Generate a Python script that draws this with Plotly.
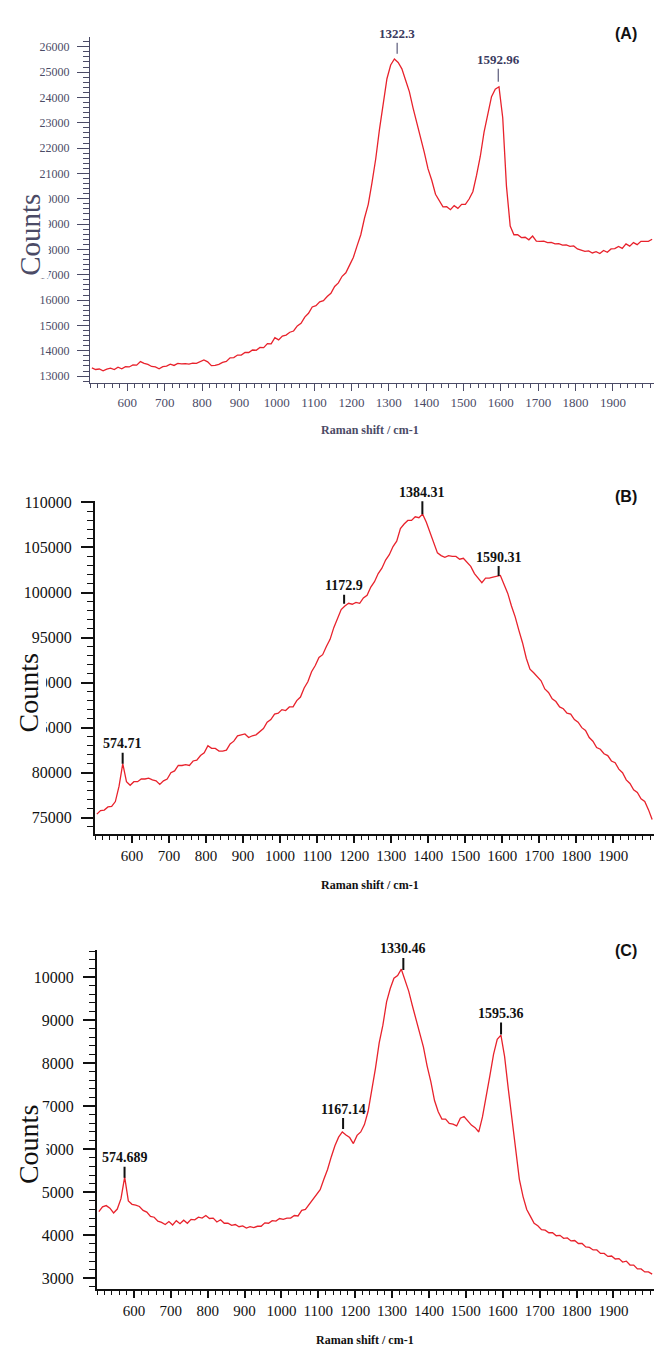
import plotly.graph_objects as go

# ---------------- data ----------------
raman_shift = list(range(505, 2006, 10))

counts_a = [
    13320, 13260, 13280, 13210, 13270, 13310, 13260, 13350, 13290, 13370,
    13360, 13440, 13430, 13570, 13500, 13460, 13380, 13360, 13290, 13370,
    13390, 13470, 13420, 13500, 13480, 13490, 13470, 13510, 13500, 13560,
    13640, 13560, 13410, 13420, 13460, 13540, 13580, 13720, 13730, 13830,
    13830, 13930, 13930, 14030, 14020, 14130, 14120, 14280, 14270, 14520,
    14430, 14580, 14620, 14730, 14780, 14980, 15080, 15330, 15480, 15730,
    15780, 15930, 15980, 16140, 16270, 16540, 16680, 16940, 17080, 17380,
    17680, 18140, 18580, 19240, 19780, 20640, 21580, 22740, 23780, 24740,
    25280, 25520, 25380, 25130, 24680, 24230, 23580, 23030, 22380, 21830,
    21180, 20730, 20180, 19930, 19680, 19690, 19570, 19730, 19620, 19780,
    19780, 19990, 20280, 20930, 21680, 22630, 23380, 24030, 24330, 24420,
    23200, 20500, 18920, 18580, 18580, 18470, 18480, 18380, 18530, 18330,
    18320, 18330, 18270, 18280, 18220, 18230, 18170, 18180, 18120, 18140,
    18020, 17960, 17920, 17940, 17860, 17910, 17840, 17960, 17890, 18020,
    18030, 18120, 18040, 18220, 18130, 18270, 18190, 18320, 18330, 18320,
    18400,
]

counts_b = [
    75400, 75800, 75850, 76200, 76250, 76800, 78500, 81000, 79000, 78600,
    79000, 79000, 79300, 79300, 79400, 79200, 79100, 78700, 79100, 79300,
    80000, 80200, 80800, 80800, 80900, 80800, 81300, 81400, 81900, 82200,
    83000, 82700, 82700, 82400, 82400, 82500, 83200, 83500, 84100, 84200,
    84300, 83900, 84100, 84200, 84600, 84900, 85600, 85900, 86500, 86600,
    87000, 86900, 87300, 87300, 88000, 88400, 89400, 90100, 91200, 91900,
    92800, 93100, 94000, 94800, 96100, 97100, 98100, 98500, 98800, 98700,
    98900, 98800, 99400, 99700, 100600, 101200, 102100, 102700, 103600, 104200,
    105100, 105700, 107100, 107600, 108000, 108000, 108400, 108300, 108700, 107800,
    106700, 105400, 104400, 104100, 103900, 104100, 104000, 104000, 103700, 103800,
    103400, 102900, 102100, 101600, 101100, 101600, 101600, 101700, 101800, 101900,
    100900, 99900, 98500, 97300, 95800, 94400, 92700, 91500, 91100, 90700,
    90200, 89300, 88900, 88200, 87900, 87300, 87100, 86600, 86500, 85900,
    85600, 85000, 84700, 83900, 83500, 82800, 82600, 82100, 81900, 81300,
    81100, 80400, 80000, 79200, 78800, 78100, 77800, 77100, 76800, 75900,
    74800,
]

counts_c = [
    4550, 4660, 4690, 4630, 4520, 4610, 4850, 5350, 4800, 4720,
    4700, 4670, 4580, 4540, 4440, 4420, 4330, 4300, 4250, 4320,
    4240, 4340, 4270, 4350, 4280, 4370, 4360, 4420, 4400, 4460,
    4390, 4400, 4310, 4360, 4280, 4280, 4230, 4250, 4200, 4220,
    4170, 4200, 4180, 4210, 4210, 4290, 4280, 4340, 4330, 4390,
    4370, 4400, 4400, 4460, 4450, 4580, 4600, 4720, 4810, 4960,
    5060, 5300, 5530, 5820, 6080, 6280, 6400, 6330, 6270, 6130,
    6320, 6400, 6570, 6880, 7370, 7880, 8470, 8880, 9420, 9730,
    9970, 10030, 10180, 9930, 9670, 9330, 9020, 8680, 8370, 7930,
    7570, 7130, 6870, 6700, 6700, 6600, 6580, 6540, 6720, 6760,
    6670, 6560, 6500, 6400, 6750, 7200, 7700, 8200, 8550, 8650,
    8150, 7400, 6700, 5900, 5300, 4900, 4600, 4440, 4280, 4220,
    4130, 4120, 4060, 4060, 3990, 4000, 3930, 3940, 3870, 3880,
    3810, 3810, 3730, 3720, 3660, 3660, 3580, 3580, 3510, 3520,
    3450, 3460, 3380, 3400, 3310, 3310, 3220, 3220, 3150, 3150,
    3100,
]

x_tick_vals = [600, 700, 800, 900, 1000, 1100, 1200, 1300, 1400, 1500, 1600, 1700, 1800, 1900]
y_ticks_a = [13000, 14000, 15000, 16000, 17000, 18000, 19000, 20000, 21000, 22000, 23000, 24000, 25000, 26000]
y_ticks_b = [75000, 80000, 85000, 90000, 95000, 100000, 105000, 110000]
y_ticks_c = [3000, 4000, 5000, 6000, 7000, 8000, 9000, 10000]

peak_x_a = [1322.3, 1592.96]
peak_y_a = [25724, 24621]
peak_lab_a = ["1322.3", "1592.96"]

peak_x_b = [574.71, 1172.9, 1384.31, 1590.31]
peak_y_b = [81000, 98740, 108675, 101830]
peak_lab_b = ["574.71", "1172.9", "1384.31", "1590.31"]

peak_x_c = [574.689, 1167.14, 1330.46, 1595.36]
peak_y_c = [5336, 6467, 10162, 8661]
peak_lab_c = ["574.689", "1167.14", "1330.46", "1595.36"]

# ---------------- layout helpers ----------------
W, H = 654, 1351
def fy(px):
    return 1 - px / H
def fx(px):
    return px / W

SERIF = "Liberation Serif, Times New Roman, serif"
SANS = "Liberation Sans, Arial, sans-serif"
RED = "#e8222c"

fig = go.Figure()
for cnt, xa, ya in [(counts_a, "x", "y"), (counts_b, "x2", "y2"), (counts_c, "x3", "y3")]:
    fig.add_trace(go.Scatter(x=raman_shift, y=cnt, xaxis=xa, yaxis=ya, mode="lines",
                             line=dict(color=RED, width=1.3), showlegend=False,
                             hoverinfo="skip"))

def xaxis(dom_left, anchor, col, lw, fsize):
    return dict(domain=[fx(dom_left), 1], anchor=anchor, range=[500, 2010],
                tickmode="array", tickvals=x_tick_vals, ticks="outside", ticklen=7,
                tickwidth=lw, tickcolor=col, showline=True, linecolor=col, linewidth=lw,
                showgrid=False, zeroline=False,
                tickfont=dict(family=SERIF, size=fsize, color=col),
                minor=dict(tickmode="linear", tick0=500, dtick=20, ticks="outside",
                           ticklen=4, tickwidth=1, tickcolor=col),
                fixedrange=True)

def yaxis(top, bottom, rng, tickvals, mdt, anchor, col, lw, fsize, standoff):
    return dict(domain=[fy(bottom), fy(top)], anchor=anchor, range=rng,
                tickmode="array", tickvals=tickvals, ticks="outside", ticklen=12,
                tickwidth=lw, tickcolor=col, showline=True, linecolor=col, linewidth=lw,
                showgrid=False, zeroline=False,
                tickformat="d", ticklabelstandoff=standoff,
                tickfont=dict(family=SERIF, size=fsize, color=col),
                minor=dict(tickmode="linear", tick0=tickvals[0], dtick=mdt, ticks="outside",
                           ticklen=6, tickwidth=1, tickcolor=col),
                fixedrange=True)

COL_A = "#4b4b66"
fig.update_layout(
    width=W, height=H, margin=dict(l=0, r=0, t=0, b=0),
    paper_bgcolor="white", plot_bgcolor="white", showlegend=False,
    xaxis=xaxis(90, "y", COL_A, 1.2, 13),
    yaxis=yaxis(30, 378, [12725, 26393], y_ticks_a, 200, "x", COL_A, 1.2, 12, 5),
    xaxis2=xaxis(95, "y2", "#111111", 2, 15),
    yaxis2=yaxis(497, 831, [73230, 110110], y_ticks_b, 1000, "x2", "#111111", 2, 16, 6),
    xaxis3=xaxis(97, "y3", "#111111", 2, 15),
    yaxis3=yaxis(948, 1289, [2746, 10623], y_ticks_c, 200, "x3", "#111111", 2, 16, 6),
)

ann = []
def peak_anns(xs, ys, labs, xref, yref, col, aw, offsets, fs):
    for px_, py_, lab, off in zip(xs, ys, labs, offsets):
        ann.append(dict(x=px_, y=py_, xref=xref, yref=yref, text="<b>" + lab + "</b>",
                        showarrow=True, arrowhead=0, arrowwidth=aw, arrowcolor=col,
                        ax=0, ay=off, font=dict(family=SERIF, size=fs, color=col)))

peak_anns(peak_x_a, peak_y_a, peak_lab_a, "x", "y", "#3a3a60", 1, [-20, -22], 13)
peak_anns(peak_x_b, peak_y_b, peak_lab_b, "x2", "y2", "#111111", 2, [-20, -18, -22, -19], 14)
peak_anns(peak_x_c, peak_y_c, peak_lab_c, "x3", "y3", "#111111", 2, [-20, -20, -21, -21], 14)

def paper_text(text, cx, cy, font, **kw):
    d = dict(x=fx(cx), y=fy(cy), xref="paper", yref="paper", text=text,
             showarrow=False, xanchor="center", yanchor="middle", font=font)
    d.update(kw)
    ann.append(d)

for lab, cx, cy in [("(A)", 626, 27), ("(B)", 626, 492), ("(C)", 626, 948)]:
    paper_text("<b>" + lab + "</b>", cx, cy, dict(family=SANS, size=16, color="#111111"))

for cx, cy, col in [(370, 425, COL_A), (370, 883, "#111111"), (365, 1340, "#111111")]:
    paper_text("<b>Raman shift / cm-1</b>", cx, cy, dict(family=SERIF, size=12, color=col))

# "Counts" sits over the left part of the tick labels, as in the original scan
for cx, cy, col, fs in [(30, 229, COL_A, 29), (28, 690, "#111111", 28), (28, 1144, "#111111", 28)]:
    paper_text("Counts", cx, cy, dict(family=SERIF, size=fs, color=col),
               textangle=-90, bgcolor="white", borderpad=2)

fig.update_layout(annotations=ann)
fig.write_html("out.html")
